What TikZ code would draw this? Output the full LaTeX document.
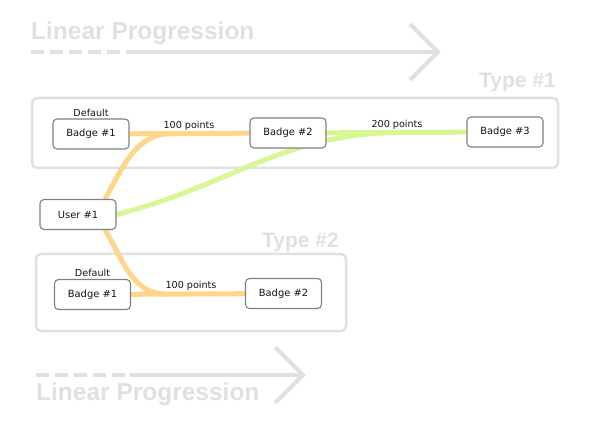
\documentclass[tikz,border=0pt]{standalone}
\usepackage{fontspec}
\setmainfont{DejaVu Sans}
\newfontfamily\headfont{Liberation Sans}
\usepackage{tikz}
\usetikzlibrary{calc}
\usetikzlibrary{positioning}
\usetikzlibrary{backgrounds}
\definecolor{faint}{HTML}{E0E0E0}
\definecolor{badgeline}{HTML}{808080}
\definecolor{orangepath}{HTML}{FFD589}
\definecolor{greenpath}{HTML}{D6F794}

\begin{document}
\begin{tikzpicture}[
	x=1pt, y=1pt,
  badge/.style = {draw=badgeline, fill=white, line width=1.1pt, rounded corners=4pt, minimum width=76pt, minimum height=30pt, inner sep=0pt, text=black!92, font=\fontsize{9.9}{11}\selectfont},
  small/.style = {inner sep=0pt, text=black!92, font=\fontsize{9.6}{11}\selectfont},
  heading/.style = {inner sep=0pt, text=faint, font=\headfont\bfseries\fontsize{24.5}{28}\selectfont},
  typelabel/.style = {inner sep=0pt, text=faint, font=\headfont\bfseries\fontsize{21}{24}\selectfont},
  frame/.style = {draw=faint, line width=2.5pt, rounded corners=5pt},
  track/.style = {draw=faint, line width=4pt},
  orangeway/.style = {draw=orangepath, line width=5pt},
  greenway/.style = {draw=greenpath, line width=5pt}
  ]
  \useasboundingbox (0,0) rectangle (600,429);

  % linear progression, top
  \node[heading, anchor=base west] (progtop) at (31,389) {Linear Progression};
  \draw[track, dash pattern=on 13pt off 6pt] (31,377) -- (120,377);
  \draw[track] (126,377) -- (438,377);
  \draw[track] (410,405) -- (438,377) -- (410,349);

  % type 1
  \node[typelabel, anchor=base east] (typeone) at (556,341) {Type \#1};
	\node[badge] (b1) at (91,295) {Badge \#1};
	\node[badge] (b2) at (288,296) {Badge \#2};
	\node[badge] (b3) at (505,297) {Badge \#3};
	\node[small, above=2pt of b1] (def1) {Default};
	\node[small, anchor=base] (pts1) at (189,300) {100 points};
	\node[small, anchor=base] (pts2) at (397,301.5) {200 points};

	\node[badge] (user) at (78,214.5) {User \#1};

  % type 2
  \node[typelabel, anchor=base east] (typetwo) at (339,182) {Type \#2};
	\node[badge] (c1) at (92.5,134.5) {Badge \#1};
	\node[badge] (c2) at (283.5,135.5) {Badge \#2};
	\node[small, above=2pt of c1] (def2) {Default};
	\node[small, anchor=base] (pts3) at (191,140.7) {100 points};

  % linear progression, bottom
  \node[heading, anchor=base west] (progbot) at (36,29) {Linear Progression};
  \draw[track, dash pattern=on 13pt off 6pt] (36,54) -- (125,54);
  \draw[track] (130,54) -- (303,54);
  \draw[track] (275,82) -- (303,54) -- (275,26);

	\coordinate (jtop) at (172,295.5);
	\coordinate (jgreen) at (400,296.5);
	\coordinate (jbot) at (166,135);

  \begin{scope}[on background layer]
    \draw[frame] (32,331) rectangle (558,261);
    \draw[frame] (36,175) rectangle (346,98);

    \draw[orangeway] (b1) -- (b2);
    \draw[greenway] (b2) -- (b3);
    \draw[orangeway] (c1) -- (c2);
    \draw[orangeway] ($(user.north)!0.7!(user.north east)$) to[out=60,in=180] (jtop);
    \draw[orangeway] ($(user.south)!0.7!(user.south east)$) to[out=-58,in=180] (jbot);
    \draw[greenway] (user.east) to[out=14,in=180] (jgreen);
  \end{scope}
\end{tikzpicture}
\end{document}
